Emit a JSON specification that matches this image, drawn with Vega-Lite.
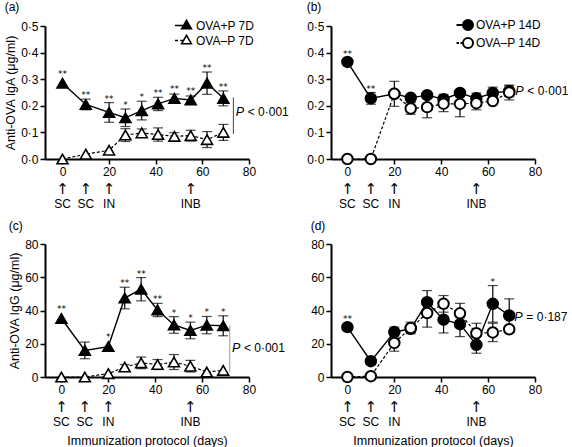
{
  "$schema": "https://vega.github.io/schema/vega-lite/v6.json",
  "background": "white",
  "padding": {"left": 4, "top": 1, "right": 0, "bottom": 0},
  "columns": 2,
  "spacing": {"row": 85, "column": 82},
  "bounds": "flush",
  "resolve": {"scale": {"fill": "independent", "x": "independent", "y": "independent"}, "legend": {"fill": "independent"}},
  "config": {
    "font": "Liberation Sans",
    "view": {"stroke": null},
    "axis": {"domainColor": "black", "domainWidth": 2, "tickColor": "black", "tickWidth": 1.5, "tickSize": 5, "labelColor": "black", "labelFontSize": 12, "titleFontSize": 12.5, "titleFontWeight": "normal", "titleColor": "black", "grid": false, "labelPadding": 2},
    "title": {"fontSize": 12, "fontWeight": "normal", "anchor": "start", "frame": "bounds", "offset": 5, "color": "black"},
    "legend": {"labelFontSize": 12, "labelColor": "black", "rowPadding": 0, "padding": 0}
  },
  "datasets": {
    "a": [
      {"day": 0, "value": 0.285, "err": 0, "star": "**", "series": "OVA+P 7D"},
      {"day": 10, "value": 0.205, "err": 0.02, "star": "**", "series": "OVA+P 7D"},
      {"day": 20, "value": 0.175, "err": 0.037, "star": "**", "series": "OVA+P 7D"},
      {"day": 27, "value": 0.155, "err": 0.033, "star": "*", "series": "OVA+P 7D"},
      {"day": 34, "value": 0.182, "err": 0.035, "star": "*", "series": "OVA+P 7D"},
      {"day": 41, "value": 0.207, "err": 0.025, "star": "**", "series": "OVA+P 7D"},
      {"day": 48, "value": 0.228, "err": 0.016, "star": "**", "series": "OVA+P 7D"},
      {"day": 55, "value": 0.222, "err": 0.015, "star": "**", "series": "OVA+P 7D"},
      {"day": 62, "value": 0.285, "err": 0.042, "star": "**", "series": "OVA+P 7D"},
      {"day": 69, "value": 0.228, "err": 0.028, "star": "**", "series": "OVA+P 7D"},
      {"day": 0, "value": 0, "err": 0, "star": "", "series": "OVA–P 7D"},
      {"day": 10, "value": 0.018, "err": 0, "star": "", "series": "OVA–P 7D"},
      {"day": 20, "value": 0.033, "err": 0, "star": "", "series": "OVA–P 7D"},
      {"day": 27, "value": 0.09, "err": 0.024, "star": "", "series": "OVA–P 7D"},
      {"day": 34, "value": 0.098, "err": 0.015, "star": "", "series": "OVA–P 7D"},
      {"day": 41, "value": 0.092, "err": 0.025, "star": "", "series": "OVA–P 7D"},
      {"day": 48, "value": 0.085, "err": 0.014, "star": "", "series": "OVA–P 7D"},
      {"day": 55, "value": 0.088, "err": 0.02, "star": "", "series": "OVA–P 7D"},
      {"day": 62, "value": 0.073, "err": 0.03, "star": "", "series": "OVA–P 7D"},
      {"day": 69, "value": 0.1, "err": 0.03, "star": "", "series": "OVA–P 7D"}
    ],
    "b": [
      {"day": 0, "value": 0.365, "err": 0, "star": "**", "series": "OVA+P 14D"},
      {"day": 10, "value": 0.228, "err": 0.022, "star": "**", "series": "OVA+P 14D"},
      {"day": 20, "value": 0.245, "err": 0.01, "star": "", "series": "OVA+P 14D"},
      {"day": 27, "value": 0.23, "err": 0.01, "star": "", "series": "OVA+P 14D"},
      {"day": 34, "value": 0.24, "err": 0.008, "star": "", "series": "OVA+P 14D"},
      {"day": 41, "value": 0.225, "err": 0.018, "star": "", "series": "OVA+P 14D"},
      {"day": 48, "value": 0.248, "err": 0.01, "star": "", "series": "OVA+P 14D"},
      {"day": 55, "value": 0.228, "err": 0.02, "star": "", "series": "OVA+P 14D"},
      {"day": 62, "value": 0.248, "err": 0.022, "star": "", "series": "OVA+P 14D"},
      {"day": 69, "value": 0.255, "err": 0.02, "star": "", "series": "OVA+P 14D"},
      {"day": 0, "value": 0, "err": 0, "star": "", "series": "OVA–P 14D"},
      {"day": 10, "value": 0, "err": 0, "star": "", "series": "OVA–P 14D"},
      {"day": 20, "value": 0.245, "err": 0.047, "star": "", "series": "OVA–P 14D"},
      {"day": 27, "value": 0.19, "err": 0.022, "star": "", "series": "OVA–P 14D"},
      {"day": 34, "value": 0.195, "err": 0.04, "star": "", "series": "OVA–P 14D"},
      {"day": 41, "value": 0.208, "err": 0.03, "star": "", "series": "OVA–P 14D"},
      {"day": 48, "value": 0.207, "err": 0.048, "star": "", "series": "OVA–P 14D"},
      {"day": 55, "value": 0.21, "err": 0.025, "star": "", "series": "OVA–P 14D"},
      {"day": 62, "value": 0.218, "err": 0.01, "star": "", "series": "OVA–P 14D"},
      {"day": 69, "value": 0.25, "err": 0.028, "star": "", "series": "OVA–P 14D"}
    ],
    "c": [
      {"day": 0, "value": 35.2, "err": 0, "star": "**", "series": "OVA+P 7D"},
      {"day": 10, "value": 16, "err": 5, "star": "", "series": "OVA+P 7D"},
      {"day": 20, "value": 18.3, "err": 0, "star": "*", "series": "OVA+P 7D"},
      {"day": 27, "value": 47.5, "err": 6.5, "star": "**", "series": "OVA+P 7D"},
      {"day": 34, "value": 52.8, "err": 7, "star": "**", "series": "OVA+P 7D"},
      {"day": 41, "value": 40.3, "err": 4, "star": "**", "series": "OVA+P 7D"},
      {"day": 48, "value": 31.3, "err": 5, "star": "*", "series": "OVA+P 7D"},
      {"day": 55, "value": 28, "err": 5, "star": "*", "series": "OVA+P 7D"},
      {"day": 62, "value": 31.2, "err": 5.2, "star": "*", "series": "OVA+P 7D"},
      {"day": 69, "value": 30.8, "err": 6, "star": "*", "series": "OVA+P 7D"},
      {"day": 0, "value": 0, "err": 0, "star": "", "series": "OVA–P 7D"},
      {"day": 10, "value": 0, "err": 0, "star": "", "series": "OVA–P 7D"},
      {"day": 20, "value": 2, "err": 0, "star": "", "series": "OVA–P 7D"},
      {"day": 27, "value": 6, "err": 1.5, "star": "", "series": "OVA–P 7D"},
      {"day": 34, "value": 8.5, "err": 3.5, "star": "", "series": "OVA–P 7D"},
      {"day": 41, "value": 7.5, "err": 3, "star": "", "series": "OVA–P 7D"},
      {"day": 48, "value": 9, "err": 4.5, "star": "", "series": "OVA–P 7D"},
      {"day": 55, "value": 6.5, "err": 3.5, "star": "", "series": "OVA–P 7D"},
      {"day": 62, "value": 3, "err": 0, "star": "", "series": "OVA–P 7D"},
      {"day": 69, "value": 4, "err": 0, "star": "", "series": "OVA–P 7D"}
    ],
    "d": [
      {"day": 0, "value": 30, "err": 0, "star": "**", "series": "OVA+P 14D"},
      {"day": 10, "value": 9.5, "err": 0, "star": "", "series": "OVA+P 14D"},
      {"day": 20, "value": 27, "err": 3, "star": "", "series": "OVA+P 14D"},
      {"day": 27, "value": 29, "err": 2, "star": "", "series": "OVA+P 14D"},
      {"day": 34, "value": 45, "err": 7, "star": "", "series": "OVA+P 14D"},
      {"day": 41, "value": 34.5, "err": 8, "star": "", "series": "OVA+P 14D"},
      {"day": 48, "value": 31.8, "err": 7.5, "star": "", "series": "OVA+P 14D"},
      {"day": 55, "value": 19.3, "err": 5, "star": "", "series": "OVA+P 14D"},
      {"day": 62, "value": 44, "err": 11, "star": "*", "series": "OVA+P 14D"},
      {"day": 69, "value": 37, "err": 10, "star": "", "series": "OVA+P 14D"},
      {"day": 0, "value": 0, "err": 0, "star": "", "series": "OVA–P 14D"},
      {"day": 10, "value": 0.5, "err": 0, "star": "", "series": "OVA–P 14D"},
      {"day": 20, "value": 20.5, "err": 5, "star": "", "series": "OVA–P 14D"},
      {"day": 27, "value": 29.5, "err": 3.5, "star": "", "series": "OVA–P 14D"},
      {"day": 34, "value": 38.5, "err": 8.5, "star": "", "series": "OVA–P 14D"},
      {"day": 41, "value": 44, "err": 5, "star": "", "series": "OVA–P 14D"},
      {"day": 48, "value": 38.3, "err": 6, "star": "", "series": "OVA–P 14D"},
      {"day": 55, "value": 26.3, "err": 6, "star": "", "series": "OVA–P 14D"},
      {"day": 62, "value": 26.8, "err": 5.5, "star": "", "series": "OVA–P 14D"},
      {"day": 69, "value": 28.7, "err": 0, "star": "", "series": "OVA–P 14D"}
    ],
    "ann": [
      {"panel": "a", "bx": 73.3, "y1": 0.094, "y2": 0.231, "tx": 74.3, "ty": 0.175, "rest": "< 0·001"},
      {"panel": "b", "tx": 71.6, "ty": 0.255, "rest": "< 0·001"},
      {"panel": "c", "bx": 71.8, "y1": 2.6, "y2": 31, "tx": 72.7, "ty": 17.5, "rest": "< 0·001"},
      {"panel": "d", "tx": 71.2, "ty": 35.8, "rest": "= 0·187"}
    ],
    "proto": [
      {"day": 0, "label": "SC"},
      {"day": 10, "label": "SC"},
      {"day": 20, "label": "IN"},
      {"day": 55, "label": "INB"}
    ]
  },
  "concat": [
    {
      "title": "(a)",
      "width": 204, "height": 133,
      "data": {"name": "a"},
      "encoding": {
        "x": {"field": "day", "type": "quantitative", "scale": {"domain": [-7.5, 80], "nice": false, "zero": false}, "axis": {"values": [0, 20, 40, 60, 80], "title": null, "labelFlush": false}},
        "y": {"field": "value", "type": "quantitative", "scale": {"domain": [0, 0.5], "nice": false}, "axis": {"values": [0, 0.1, 0.2, 0.3, 0.4, 0.5], "labelExpr": "replace(format(datum.value, '.1f'), '.', '·')", "title": "Anti-OVA IgA (μg/ml)", "titlePadding": 3}}
      },
      "layer": [
        {"transform": [{"filter": "datum.err > 0"}], "mark": {"type": "errorbar", "ticks": {"size": 10}, "thickness": 1.2, "color": "black"}, "encoding": {"yError": {"field": "err"}}},
        {"transform": [{"filter": "datum.series == 'OVA+P 7D'"}], "mark": {"type": "line", "color": "black", "strokeWidth": 1.4}},
        {"transform": [{"filter": "datum.series == 'OVA–P 7D'"}], "mark": {"type": "line", "color": "black", "strokeWidth": 1.2, "strokeDash": [3, 2]}},
        {"mark": {"type": "point", "shape": "triangle-up", "size": 120, "filled": true, "stroke": "black", "strokeWidth": 1.6, "opacity": 1}, "encoding": {"fill": {"field": "series", "type": "nominal", "scale": {"domain": ["OVA+P 7D", "OVA–P 7D"], "range": ["black", "white"]}, "legend": {"title": null, "orient": "none", "legendX": 135, "legendY": -7, "symbolSize": 121, "symbolStrokeColor": "black", "symbolStrokeWidth": 1.5, "symbolOpacity": 1, "labelOffset": 3, "encode": {"symbols": {"update": {"shape": {"signal": "datum.value == 'OVA+P 7D' ? 'M-2.1,0H-0.55M-0.9,0.6L0,-0.95L0.9,0.6Z' : 'M-2.1,0H-1.55M-1.15,0H-0.55M-0.9,0.6L0,-0.95L0.9,0.6Z'"}, "stroke": {"value": "black"}, "strokeWidth": {"value": 1.5}}}}}}}},
        {"transform": [{"filter": "datum.star != ''"}, {"calculate": "datum.value + max(datum.err, 0.02)", "as": "top"}], "mark": {"type": "text", "font": "DejaVu Sans", "fontSize": 9, "baseline": "alphabetic", "dy": -1, "color": "black"}, "encoding": {"y": {"field": "top", "type": "quantitative"}, "text": {"field": "star"}}},
        {"data": {"name": "ann"}, "transform": [{"filter": "datum.panel == 'a'"}], "mark": {"type": "rule", "color": "#444", "strokeWidth": 1}, "encoding": {"x": {"field": "bx", "type": "quantitative"}, "y": {"field": "y1", "type": "quantitative"}, "y2": {"field": "y2"}}},
        {"data": {"name": "ann"}, "transform": [{"filter": "datum.panel == 'a'"}], "mark": {"type": "text", "fontSize": 12.5, "fontStyle": "italic", "align": "left", "baseline": "middle", "color": "black"}, "encoding": {"x": {"field": "tx", "type": "quantitative"}, "y": {"field": "ty", "type": "quantitative"}, "text": {"value": "P"}}},
        {"data": {"name": "ann"}, "transform": [{"filter": "datum.panel == 'a'"}], "mark": {"type": "text", "fontSize": 12, "align": "left", "baseline": "middle", "dx": 12, "color": "black"}, "encoding": {"x": {"field": "tx", "type": "quantitative"}, "y": {"field": "ty", "type": "quantitative"}, "text": {"field": "rest"}}},
        {"data": {"name": "proto"}, "transform": [{"calculate": "0", "as": "base"}], "mark": {"type": "text", "font": "DejaVu Sans", "fontSize": 15, "baseline": "middle", "dy": 30, "color": "black"}, "encoding": {"x": {"field": "day", "type": "quantitative"}, "y": {"field": "base", "type": "quantitative"}, "text": {"value": "↑"}}},
        {"data": {"name": "proto"}, "transform": [{"calculate": "0", "as": "base"}], "mark": {"type": "text", "fontSize": 12, "baseline": "middle", "dy": 45, "color": "black"}, "encoding": {"x": {"field": "day", "type": "quantitative"}, "y": {"field": "base", "type": "quantitative"}, "text": {"field": "label"}}}
      ]
    },
    {
      "title": "(b)",
      "width": 204, "height": 133,
      "data": {"name": "b"},
      "encoding": {
        "x": {"field": "day", "type": "quantitative", "scale": {"domain": [-7, 80], "nice": false, "zero": false}, "axis": {"values": [0, 20, 40, 60, 80], "title": null, "labelFlush": false}},
        "y": {"field": "value", "type": "quantitative", "scale": {"domain": [0, 0.5], "nice": false}, "axis": {"values": [0, 0.1, 0.2, 0.3, 0.4, 0.5], "labelExpr": "replace(format(datum.value, '.1f'), '.', '·')", "title": null}}
      },
      "layer": [
        {"transform": [{"filter": "datum.err > 0"}], "mark": {"type": "errorbar", "ticks": {"size": 10}, "thickness": 1.2, "color": "black"}, "encoding": {"yError": {"field": "err"}}},
        {"transform": [{"filter": "datum.series == 'OVA+P 14D'"}], "mark": {"type": "line", "color": "black", "strokeWidth": 1.4}},
        {"transform": [{"filter": "datum.series == 'OVA–P 14D'"}], "mark": {"type": "line", "color": "black", "strokeWidth": 1.2, "strokeDash": [3, 2]}},
        {"mark": {"type": "point", "shape": "circle", "size": 110, "filled": true, "stroke": "black", "strokeWidth": 2, "opacity": 1}, "encoding": {"fill": {"field": "series", "type": "nominal", "scale": {"domain": ["OVA+P 14D", "OVA–P 14D"], "range": ["black", "white"]}, "legend": {"title": null, "orient": "none", "legendX": 131, "legendY": -7, "symbolSize": 100, "symbolStrokeColor": "black", "symbolStrokeWidth": 2, "symbolOpacity": 1, "labelOffset": 2, "encode": {"symbols": {"update": {"shape": {"signal": "datum.value == 'OVA+P 14D' ? 'M-2.3,0H-1M-1,0A1,1,0,1,1,1,0A1,1,0,1,1,-1,0Z' : 'M-2.3,0H-1.8M-1.5,0H-1M-1,0A1,1,0,1,1,1,0A1,1,0,1,1,-1,0Z'"}, "stroke": {"value": "black"}, "strokeWidth": {"value": 2}}}}}}}},
        {"transform": [{"filter": "datum.star != ''"}, {"calculate": "datum.value + max(datum.err, 0.013)", "as": "top"}], "mark": {"type": "text", "font": "DejaVu Sans", "fontSize": 9, "baseline": "alphabetic", "dy": -1, "color": "black"}, "encoding": {"y": {"field": "top", "type": "quantitative"}, "text": {"field": "star"}}},
        {"data": {"name": "ann"}, "transform": [{"filter": "datum.panel == 'b'"}], "mark": {"type": "text", "fontSize": 12.5, "fontStyle": "italic", "align": "left", "baseline": "middle", "color": "black"}, "encoding": {"x": {"field": "tx", "type": "quantitative"}, "y": {"field": "ty", "type": "quantitative"}, "text": {"value": "P"}}},
        {"data": {"name": "ann"}, "transform": [{"filter": "datum.panel == 'b'"}], "mark": {"type": "text", "fontSize": 12, "align": "left", "baseline": "middle", "dx": 12, "color": "black"}, "encoding": {"x": {"field": "tx", "type": "quantitative"}, "y": {"field": "ty", "type": "quantitative"}, "text": {"field": "rest"}}},
        {"data": {"name": "proto"}, "transform": [{"calculate": "0", "as": "base"}], "mark": {"type": "text", "font": "DejaVu Sans", "fontSize": 15, "baseline": "middle", "dy": 30, "color": "black"}, "encoding": {"x": {"field": "day", "type": "quantitative"}, "y": {"field": "base", "type": "quantitative"}, "text": {"value": "↑"}}},
        {"data": {"name": "proto"}, "transform": [{"calculate": "0", "as": "base"}], "mark": {"type": "text", "fontSize": 12, "baseline": "middle", "dy": 45, "color": "black"}, "encoding": {"x": {"field": "day", "type": "quantitative"}, "y": {"field": "base", "type": "quantitative"}, "text": {"field": "label"}}}
      ]
    },
    {
      "title": "(c)",
      "width": 204, "height": 133,
      "data": {"name": "c"},
      "encoding": {
        "x": {"field": "day", "type": "quantitative", "scale": {"domain": [-7, 80], "nice": false, "zero": false}, "axis": {"values": [0, 20, 40, 60, 80], "title": "Immunization protocol (days)", "titlePadding": 39, "labelFlush": false}},
        "y": {"field": "value", "type": "quantitative", "scale": {"domain": [0, 80], "nice": false}, "axis": {"values": [0, 20, 40, 60, 80], "title": "Anti-OVA IgG (μg/ml)", "titlePadding": 3}}
      },
      "layer": [
        {"transform": [{"filter": "datum.err > 0"}], "mark": {"type": "errorbar", "ticks": {"size": 10}, "thickness": 1.2, "color": "black"}, "encoding": {"yError": {"field": "err"}}},
        {"transform": [{"filter": "datum.series == 'OVA+P 7D'"}], "mark": {"type": "line", "color": "black", "strokeWidth": 1.4}},
        {"transform": [{"filter": "datum.series == 'OVA–P 7D'"}], "mark": {"type": "line", "color": "black", "strokeWidth": 1.2, "strokeDash": [3, 2]}},
        {"mark": {"type": "point", "shape": "triangle-up", "size": 120, "filled": true, "stroke": "black", "strokeWidth": 1.6, "opacity": 1}, "encoding": {"fill": {"field": "series", "type": "nominal", "scale": {"domain": ["OVA+P 7D", "OVA–P 7D"], "range": ["black", "white"]}, "legend": null}}},
        {"transform": [{"filter": "datum.star != ''"}, {"calculate": "datum.value + max(datum.err, 3.5)", "as": "top"}], "mark": {"type": "text", "font": "DejaVu Sans", "fontSize": 9, "baseline": "alphabetic", "dy": -1, "color": "black"}, "encoding": {"y": {"field": "top", "type": "quantitative"}, "text": {"field": "star"}}},
        {"data": {"name": "ann"}, "transform": [{"filter": "datum.panel == 'c'"}], "mark": {"type": "rule", "color": "#999", "strokeWidth": 1}, "encoding": {"x": {"field": "bx", "type": "quantitative"}, "y": {"field": "y1", "type": "quantitative"}, "y2": {"field": "y2"}}},
        {"data": {"name": "ann"}, "transform": [{"filter": "datum.panel == 'c'"}], "mark": {"type": "text", "fontSize": 12.5, "fontStyle": "italic", "align": "left", "baseline": "middle", "color": "black"}, "encoding": {"x": {"field": "tx", "type": "quantitative"}, "y": {"field": "ty", "type": "quantitative"}, "text": {"value": "P"}}},
        {"data": {"name": "ann"}, "transform": [{"filter": "datum.panel == 'c'"}], "mark": {"type": "text", "fontSize": 12, "align": "left", "baseline": "middle", "dx": 12, "color": "black"}, "encoding": {"x": {"field": "tx", "type": "quantitative"}, "y": {"field": "ty", "type": "quantitative"}, "text": {"field": "rest"}}},
        {"data": {"name": "proto"}, "transform": [{"calculate": "0", "as": "base"}], "mark": {"type": "text", "font": "DejaVu Sans", "fontSize": 15, "baseline": "middle", "dy": 30, "color": "black"}, "encoding": {"x": {"field": "day", "type": "quantitative"}, "y": {"field": "base", "type": "quantitative"}, "text": {"value": "↑"}}},
        {"data": {"name": "proto"}, "transform": [{"calculate": "0", "as": "base"}], "mark": {"type": "text", "fontSize": 12, "baseline": "middle", "dy": 45, "color": "black"}, "encoding": {"x": {"field": "day", "type": "quantitative"}, "y": {"field": "base", "type": "quantitative"}, "text": {"field": "label"}}}
      ]
    },
    {
      "title": "(d)",
      "width": 204, "height": 133,
      "data": {"name": "d"},
      "encoding": {
        "x": {"field": "day", "type": "quantitative", "scale": {"domain": [-7, 80], "nice": false, "zero": false}, "axis": {"values": [0, 20, 40, 60, 80], "title": "Immunization protocol (days)", "titlePadding": 39, "labelFlush": false}},
        "y": {"field": "value", "type": "quantitative", "scale": {"domain": [0, 80], "nice": false}, "axis": {"values": [0, 20, 40, 60, 80], "title": null}}
      },
      "layer": [
        {"transform": [{"filter": "datum.err > 0"}], "mark": {"type": "errorbar", "ticks": {"size": 10}, "thickness": 1.2, "color": "black"}, "encoding": {"yError": {"field": "err"}}},
        {"transform": [{"filter": "datum.series == 'OVA+P 14D'"}], "mark": {"type": "line", "color": "black", "strokeWidth": 1.4}},
        {"transform": [{"filter": "datum.series == 'OVA–P 14D'"}], "mark": {"type": "line", "color": "black", "strokeWidth": 1.2, "strokeDash": [3, 2]}},
        {"mark": {"type": "point", "shape": "circle", "size": 110, "filled": true, "stroke": "black", "strokeWidth": 2, "opacity": 1}, "encoding": {"fill": {"field": "series", "type": "nominal", "scale": {"domain": ["OVA+P 14D", "OVA–P 14D"], "range": ["black", "white"]}, "legend": null}}},
        {"transform": [{"filter": "datum.star != ''"}, {"calculate": "datum.value + max(datum.err, 2.2)", "as": "top"}], "mark": {"type": "text", "font": "DejaVu Sans", "fontSize": 9, "baseline": "alphabetic", "dy": -1, "color": "black"}, "encoding": {"y": {"field": "top", "type": "quantitative"}, "text": {"field": "star"}}},
        {"data": {"name": "ann"}, "transform": [{"filter": "datum.panel == 'd'"}], "mark": {"type": "text", "fontSize": 12.5, "fontStyle": "italic", "align": "left", "baseline": "middle", "color": "black"}, "encoding": {"x": {"field": "tx", "type": "quantitative"}, "y": {"field": "ty", "type": "quantitative"}, "text": {"value": "P"}}},
        {"data": {"name": "ann"}, "transform": [{"filter": "datum.panel == 'd'"}], "mark": {"type": "text", "fontSize": 12, "align": "left", "baseline": "middle", "dx": 12, "color": "black"}, "encoding": {"x": {"field": "tx", "type": "quantitative"}, "y": {"field": "ty", "type": "quantitative"}, "text": {"field": "rest"}}},
        {"data": {"name": "proto"}, "transform": [{"calculate": "0", "as": "base"}], "mark": {"type": "text", "font": "DejaVu Sans", "fontSize": 15, "baseline": "middle", "dy": 30, "color": "black"}, "encoding": {"x": {"field": "day", "type": "quantitative"}, "y": {"field": "base", "type": "quantitative"}, "text": {"value": "↑"}}},
        {"data": {"name": "proto"}, "transform": [{"calculate": "0", "as": "base"}], "mark": {"type": "text", "fontSize": 12, "baseline": "middle", "dy": 45, "color": "black"}, "encoding": {"x": {"field": "day", "type": "quantitative"}, "y": {"field": "base", "type": "quantitative"}, "text": {"field": "label"}}}
      ]
    }
  ]
}
